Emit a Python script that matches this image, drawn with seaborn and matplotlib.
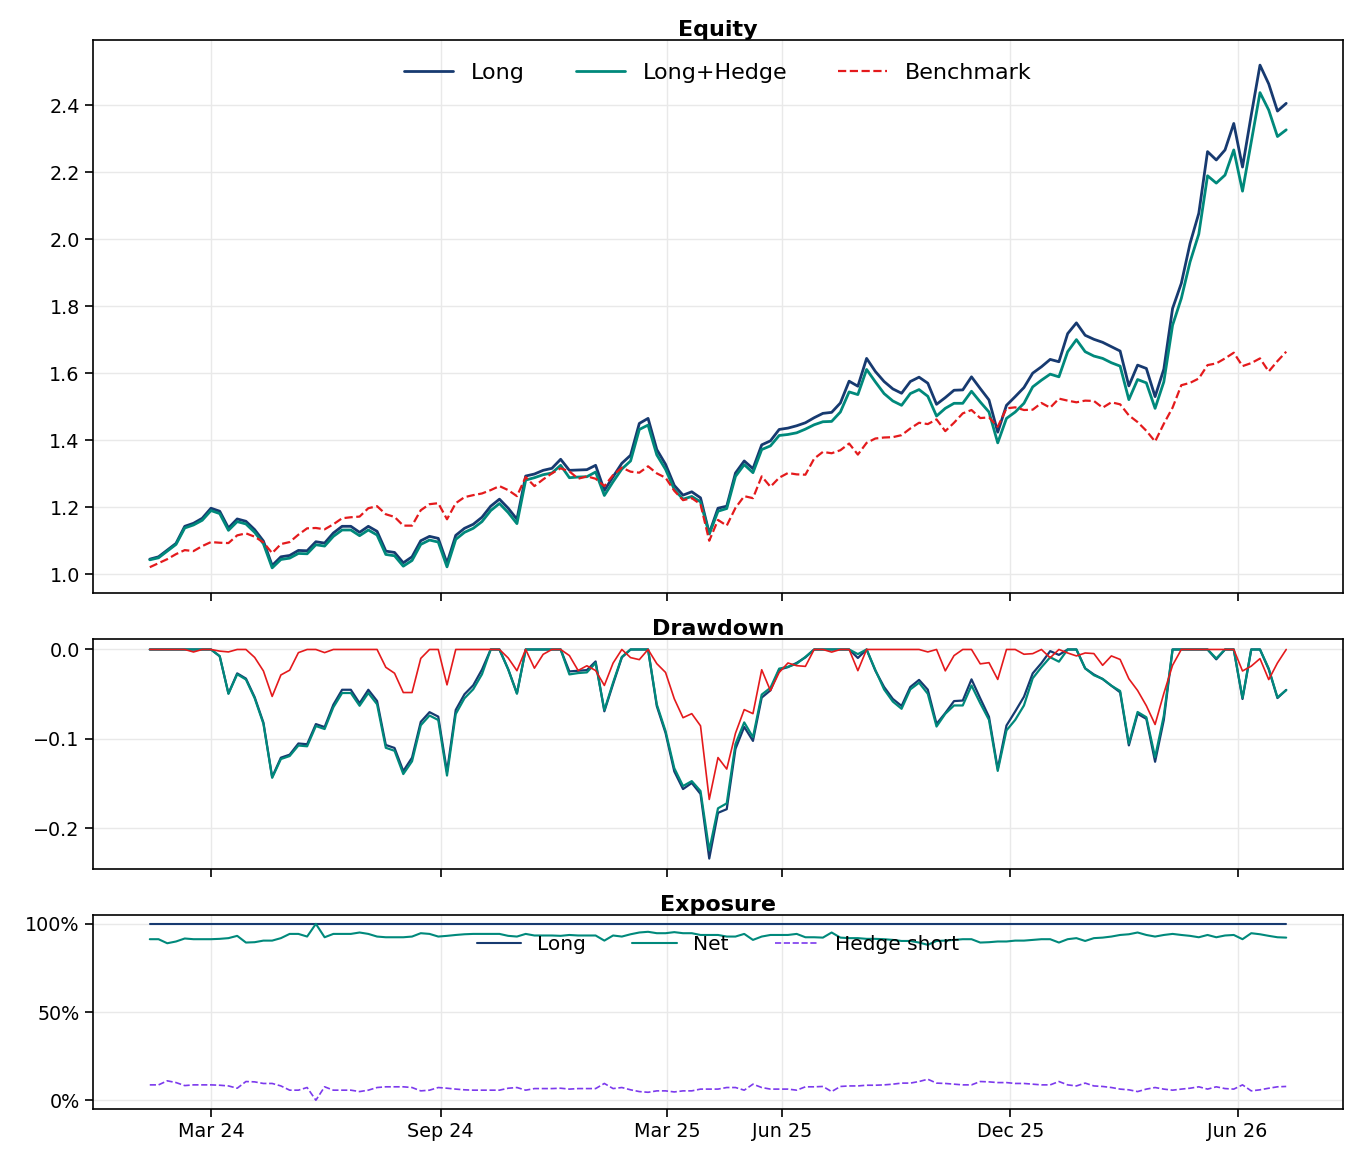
import numpy as np
import pandas as pd
import matplotlib
matplotlib.use("Agg")
import matplotlib.pyplot as plt
from matplotlib.ticker import PercentFormatter
import seaborn as sns

# ---------------- data ----------------
start_date = "2024-01-12"
n_points = 131

long_equity = [
    1.045, 1.052, 1.072, 1.092, 1.143, 1.152, 1.167, 1.197, 1.188, 1.138,
    1.165, 1.158, 1.133, 1.099, 1.026, 1.052, 1.056, 1.071, 1.070, 1.097,
    1.093, 1.123, 1.143, 1.143, 1.125, 1.143, 1.128, 1.069, 1.065, 1.034,
    1.052, 1.100, 1.113, 1.107, 1.033, 1.116, 1.137, 1.149, 1.170, 1.203,
    1.224, 1.197, 1.164, 1.293, 1.299, 1.310, 1.316, 1.343, 1.310, 1.311,
    1.312, 1.325, 1.250, 1.291, 1.331, 1.355, 1.450, 1.465, 1.372, 1.328,
    1.265, 1.236, 1.246, 1.228, 1.122, 1.197, 1.203, 1.302, 1.338, 1.315,
    1.386, 1.398, 1.432, 1.436, 1.443, 1.452, 1.467, 1.480, 1.483, 1.511,
    1.576, 1.561, 1.644, 1.605, 1.575, 1.553, 1.540, 1.575, 1.588, 1.570,
    1.507, 1.527, 1.549, 1.550, 1.589, 1.554, 1.520, 1.424, 1.504, 1.530,
    1.557, 1.600, 1.619, 1.641, 1.634, 1.718, 1.750, 1.713, 1.701, 1.692,
    1.679, 1.666, 1.562, 1.624, 1.614, 1.530, 1.612, 1.793, 1.868, 1.987,
    2.077, 2.261, 2.236, 2.266, 2.345, 2.215, 2.370, 2.519, 2.463, 2.382,
    2.405,
]

long_hedge_equity = [
    1.043, 1.049, 1.069, 1.089, 1.138, 1.147, 1.161, 1.190, 1.181, 1.131,
    1.157, 1.150, 1.125, 1.091, 1.019, 1.044, 1.048, 1.062, 1.061, 1.088,
    1.084, 1.113, 1.132, 1.132, 1.115, 1.132, 1.117, 1.059, 1.055, 1.024,
    1.041, 1.089, 1.102, 1.096, 1.022, 1.104, 1.125, 1.137, 1.157, 1.190,
    1.211, 1.184, 1.151, 1.281, 1.288, 1.297, 1.302, 1.325, 1.288, 1.290,
    1.291, 1.305, 1.235, 1.276, 1.314, 1.338, 1.432, 1.445, 1.356, 1.313,
    1.253, 1.224, 1.232, 1.216, 1.120, 1.188, 1.196, 1.292, 1.327, 1.303,
    1.372, 1.383, 1.414, 1.417, 1.422, 1.433, 1.446, 1.455, 1.456, 1.484,
    1.544, 1.536, 1.611, 1.574, 1.539, 1.517, 1.504, 1.539, 1.551, 1.531,
    1.472, 1.495, 1.510, 1.510, 1.546, 1.514, 1.484, 1.392, 1.465, 1.484,
    1.510, 1.559, 1.579, 1.597, 1.589, 1.664, 1.700, 1.664, 1.651, 1.644,
    1.631, 1.621, 1.521, 1.581, 1.571, 1.495, 1.574, 1.743, 1.823, 1.932,
    2.015, 2.189, 2.167, 2.191, 2.266, 2.143, 2.290, 2.437, 2.385, 2.306,
    2.326,
]

benchmark_equity = [
    1.021, 1.033, 1.045, 1.060, 1.072, 1.069, 1.084, 1.096, 1.094, 1.093,
    1.116, 1.122, 1.112, 1.095, 1.063, 1.090, 1.096, 1.118, 1.137, 1.138,
    1.134, 1.149, 1.167, 1.170, 1.172, 1.197, 1.203, 1.179, 1.171, 1.145,
    1.145, 1.191, 1.209, 1.212, 1.164, 1.212, 1.230, 1.236, 1.241, 1.251,
    1.263, 1.251, 1.233, 1.290, 1.263, 1.283, 1.301, 1.316, 1.307, 1.285,
    1.292, 1.285, 1.263, 1.296, 1.318, 1.306, 1.303, 1.322, 1.301, 1.288,
    1.249, 1.221, 1.227, 1.209, 1.100, 1.162, 1.145, 1.198, 1.233, 1.227,
    1.292, 1.261, 1.288, 1.302, 1.298, 1.297, 1.345, 1.365, 1.361, 1.370,
    1.390, 1.357, 1.392, 1.405, 1.408, 1.409, 1.415, 1.435, 1.452, 1.448,
    1.462, 1.427, 1.452, 1.480, 1.490, 1.466, 1.468, 1.440, 1.495, 1.498,
    1.490, 1.491, 1.511, 1.497, 1.524, 1.518, 1.513, 1.518, 1.517, 1.497,
    1.513, 1.507, 1.474, 1.454, 1.428, 1.396, 1.449, 1.497, 1.564, 1.571,
    1.584, 1.624, 1.629, 1.644, 1.661, 1.621, 1.630, 1.644, 1.605, 1.636,
    1.664,
]

# exposures (fraction of capital)
long_exposure = [1.0] * n_points
hedge_short = [
    0.087, 0.087, 0.110, 0.100, 0.083, 0.087, 0.087, 0.087, 0.085, 0.081,
    0.068, 0.106, 0.104, 0.095, 0.095, 0.081, 0.057, 0.057, 0.072, 0.000,
    0.076, 0.057, 0.057, 0.057, 0.049, 0.057, 0.072, 0.076, 0.076, 0.076,
    0.072, 0.053, 0.057, 0.072, 0.068, 0.063, 0.059, 0.057, 0.057, 0.057,
    0.057, 0.068, 0.072, 0.057, 0.066, 0.066, 0.066, 0.068, 0.063, 0.066,
    0.066, 0.066, 0.095, 0.066, 0.072, 0.059, 0.049, 0.045, 0.053, 0.053,
    0.047, 0.053, 0.053, 0.063, 0.063, 0.063, 0.072, 0.072, 0.057, 0.091,
    0.072, 0.063, 0.063, 0.063, 0.057, 0.076, 0.076, 0.078, 0.049, 0.078,
    0.081, 0.081, 0.085, 0.085, 0.087, 0.091, 0.097, 0.097, 0.106, 0.119,
    0.097, 0.095, 0.091, 0.087, 0.087, 0.106, 0.104, 0.100, 0.100, 0.095,
    0.095, 0.091, 0.087, 0.087, 0.106, 0.087, 0.081, 0.097, 0.081, 0.078,
    0.072, 0.063, 0.059, 0.049, 0.063, 0.072, 0.063, 0.057, 0.063, 0.068,
    0.076, 0.063, 0.076, 0.066, 0.063, 0.087, 0.053, 0.059, 0.068, 0.076,
    0.078,
]

tick_dates = ["2024-03-01", "2024-09-01", "2025-03-01", "2025-06-01",
              "2025-12-01", "2026-06-01"]
tick_labels = ["Mar 24", "Sep 24", "Mar 25", "Jun 25", "Dec 25", "Jun 26"]
dd_ticks = [-0.2, -0.1, 0.0]
exposure_ticks = [0.0, 0.5, 1.0]

# ---------------- frame ----------------
dates = pd.date_range(start_date, periods=n_points, freq="7D")
df = pd.DataFrame({
    "date": dates,
    "Long": long_equity,
    "Long+Hedge": long_hedge_equity,
    "Benchmark": benchmark_equity,
    "long_exp": long_exposure,
    "hedge_short": hedge_short,
})
for c in ["Long", "Long+Hedge", "Benchmark"]:
    df[c + "_dd"] = df[c] / df[c].cummax() - 1.0
df["net_exp"] = df["long_exp"] - df["hedge_short"]

C_LONG = "#173a70"
C_HEDGE = "#00897b"
C_BENCH = "#e41a1c"
C_SHORT = "#7c3aed"

sns.set_theme(style="ticks")
plt.rcParams["font.family"] = ["DejaVu Sans"]
plt.rcParams["text.color"] = "black"
plt.rcParams["xtick.color"] = "black"
plt.rcParams["ytick.color"] = "black"
plt.rcParams["axes.labelcolor"] = "black"

fig, axes = plt.subplots(
    3, 1, sharex=True, figsize=(13.61, 11.63), dpi=100,
    gridspec_kw={"height_ratios": [553, 230, 194], "hspace": 0.1413,
                 "left": 0.0683, "right": 0.9868, "top": 0.9656,
                 "bottom": 0.0464},
)
ax1, ax2, ax3 = axes

# Equity
sns.lineplot(data=df, x="date", y="Long", ax=ax1, color=C_LONG, linewidth=2.0, label="Long")
sns.lineplot(data=df, x="date", y="Long+Hedge", ax=ax1, color=C_HEDGE, linewidth=2.0, label="Long+Hedge")
sns.lineplot(data=df, x="date", y="Benchmark", ax=ax1, color=C_BENCH, linewidth=1.6,
             linestyle="--", label="Benchmark")
ax1.set_title("Equity", fontsize=16, fontweight="bold", pad=2, color="black")
ax1.legend(loc="upper center", ncol=3, frameon=False, fontsize=16,
           handlelength=2.2, columnspacing=2.3, bbox_to_anchor=(0.5, 0.995))

# Drawdown
sns.lineplot(data=df, x="date", y="Long_dd", ax=ax2, color=C_LONG, linewidth=1.6)
sns.lineplot(data=df, x="date", y="Long+Hedge_dd", ax=ax2, color=C_HEDGE, linewidth=1.6)
sns.lineplot(data=df, x="date", y="Benchmark_dd", ax=ax2, color=C_BENCH, linewidth=1.2)
ax2.set_title("Drawdown", fontsize=16, fontweight="bold", pad=2, color="black")
ax2.set_yticks(dd_ticks)

# Exposure
sns.lineplot(data=df, x="date", y="long_exp", ax=ax3, color=C_LONG, linewidth=1.5, label="Long")
sns.lineplot(data=df, x="date", y="net_exp", ax=ax3, color=C_HEDGE, linewidth=1.5, label="Net")
sns.lineplot(data=df, x="date", y="hedge_short", ax=ax3, color=C_SHORT, linewidth=1.2,
             linestyle="--", label="Hedge short")
ax3.set_title("Exposure", fontsize=16, fontweight="bold", pad=2, color="black")
ax3.yaxis.set_major_formatter(PercentFormatter(1.0, decimals=0))
ax3.set_yticks(exposure_ticks)
ax3.legend(loc="upper center", ncol=3, frameon=False, fontsize=14.5,
           handlelength=2.2, columnspacing=2.3, bbox_to_anchor=(0.5, 0.99))

ax3.set_xticks(pd.to_datetime(tick_dates))
ax3.set_xticklabels(tick_labels)

for ax in axes:
    ax.set_xlabel("")
    ax.set_ylabel("")
    ax.grid(True, color="#e9e9e9", linewidth=1.0)
    ax.tick_params(labelsize=13.8, length=6, width=1.2, color="black", labelcolor="black")
    for s in ax.spines.values():
        s.set_visible(True)
        s.set_color("black")
        s.set_linewidth(1.2)
    ax.margins(x=0.05, y=0.05)

fig.savefig("out.png", dpi=100, facecolor="white")
